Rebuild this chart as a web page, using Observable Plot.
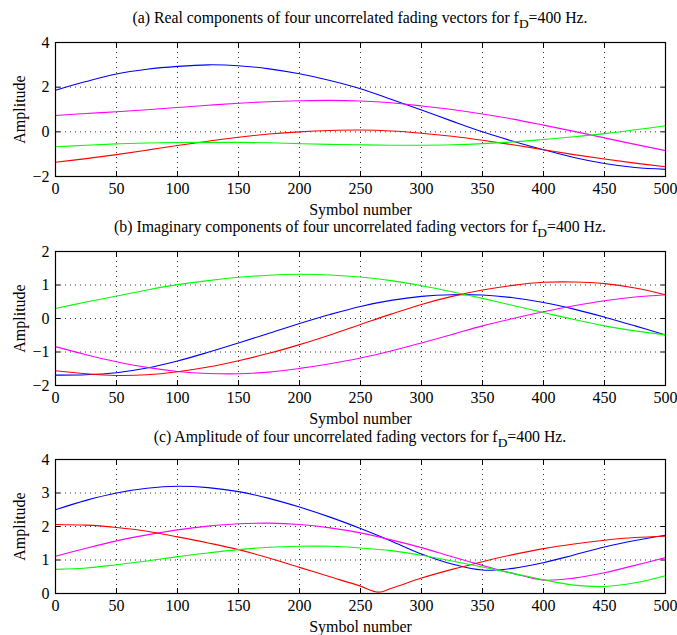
<!DOCTYPE html>
<html>
<head>
<meta charset="utf-8">
<script src="https://cdn.jsdelivr.net/npm/d3@7"></script>
<script src="https://cdn.jsdelivr.net/npm/@observablehq/plot@0.6"></script>
<style>
  body { margin: 0; background: #fff; }
  #wrap { position: relative; width: 677px; height: 635px; font-family: "Liberation Serif", "Times New Roman", serif; }
  .title { position: absolute; left: 55px; width: 610px; text-align: center; font-size: 15.8px; color: #000; line-height: 16px; white-space: nowrap; }
  .title sub { font-size: 0.85em; vertical-align: -5px; line-height: 0; }
  .panel { position: absolute; left: 0; }
</style>
</head>
<body>
<div id="wrap"></div>
<script>
// ---------- data ----------
const symbols = [0,25,50,75,100,125,150,175,200,225,250,275,300,325,350,375,400,425,450,475,500];
const xTicks = [0,50,100,150,200,250,300,350,400,450,500];
const seriesColors = ["#0000ff", "#ff00ff", "#ff0000", "#00ff00"];

// (a) Real components
const realBlue  = [1.86,2.25,2.59,2.80,2.93,3.00,2.96,2.82,2.60,2.30,1.93,1.46,0.98,0.48,0.00,-0.42,-0.80,-1.15,-1.42,-1.60,-1.68];
const realPink  = [0.73,0.82,0.90,0.99,1.09,1.19,1.28,1.35,1.39,1.41,1.38,1.30,1.16,1.00,0.80,0.57,0.30,0.02,-0.27,-0.56,-0.84];
const realRed   = [-1.36,-1.20,-1.02,-0.82,-0.61,-0.42,-0.24,-0.10,0.00,0.06,0.08,0.04,-0.06,-0.20,-0.38,-0.58,-0.80,-1.02,-1.22,-1.40,-1.56];
const realGreen = [-0.67,-0.60,-0.54,-0.50,-0.48,-0.47,-0.47,-0.49,-0.53,-0.56,-0.58,-0.60,-0.60,-0.58,-0.53,-0.45,-0.34,-0.22,-0.08,0.09,0.27];

// (b) Imaginary components
const imagBlue  = [-1.69,-1.68,-1.62,-1.48,-1.27,-1.01,-0.73,-0.44,-0.15,0.12,0.36,0.54,0.66,0.71,0.70,0.62,0.48,0.28,0.04,-0.22,-0.49];
const imagPink  = [-0.84,-1.08,-1.29,-1.46,-1.58,-1.64,-1.65,-1.60,-1.49,-1.35,-1.18,-0.97,-0.73,-0.48,-0.22,0.00,0.20,0.38,0.53,0.64,0.71];
const imagRed   = [-1.56,-1.65,-1.70,-1.68,-1.59,-1.45,-1.26,-1.04,-0.78,-0.49,-0.18,0.13,0.42,0.66,0.85,0.99,1.08,1.09,1.04,0.91,0.71];
const imagGreen = [0.30,0.49,0.67,0.85,1.01,1.13,1.23,1.29,1.32,1.30,1.24,1.13,0.98,0.80,0.60,0.39,0.18,-0.03,-0.22,-0.37,-0.49];

// (c) Amplitude
const ampBlue  = [2.50,2.78,3.00,3.14,3.20,3.16,3.04,2.84,2.58,2.28,1.94,1.57,1.18,0.88,0.70,0.75,0.92,1.15,1.39,1.58,1.74];
const ampPink  = [1.11,1.35,1.57,1.75,1.90,2.01,2.08,2.10,2.06,1.96,1.81,1.60,1.37,1.10,0.84,0.60,0.40,0.46,0.62,0.84,1.07];
const ampRedSymbols = [0,25,50,75,100,125,150,175,200,225,250,265,275,300,325,350,375,400,425,450,475,500];
const ampRed   = [2.06,2.04,1.97,1.86,1.69,1.51,1.31,1.06,0.78,0.50,0.22,0.04,0.15,0.46,0.72,0.95,1.16,1.34,1.48,1.59,1.67,1.71];
const ampGreen = [0.72,0.76,0.86,0.97,1.10,1.21,1.31,1.38,1.41,1.41,1.36,1.28,1.14,0.97,0.79,0.60,0.41,0.25,0.21,0.32,0.53];

const panels = [
  {title: "(a) Real components of four uncorrelated fading vectors for f<sub>D</sub>=400 Hz.", titleTop: 10, top: 34,
   yDomain: [-2, 4], yTicks: [-2,0,2,4],
   series: [[symbols, realBlue], [symbols, realPink], [symbols, realRed], [symbols, realGreen]]},
  {title: "(b) Imaginary components of four uncorrelated fading vectors for f<sub>D</sub>=400 Hz.", titleTop: 219, top: 243,
   yDomain: [-2, 2], yTicks: [-2,-1,0,1,2],
   series: [[symbols, imagBlue], [symbols, imagPink], [symbols, imagRed], [symbols, imagGreen]]},
  {title: "(c) Amplitude of four uncorrelated fading vectors for f<sub>D</sub>=400 Hz.", titleTop: 429, top: 451,
   yDomain: [0, 4], yTicks: [0,1,2,3,4],
   series: [[symbols, ampBlue], [symbols, ampPink], [ampRedSymbols, ampRed, "monotone-x"], [symbols, ampGreen]]}
];

const wrap = document.getElementById("wrap");
const plotH = 134, mTop = 8, mBottom = 48;

for (const p of panels) {
  const t = document.createElement("div");
  t.className = "title";
  t.style.top = p.titleTop + "px";
  t.innerHTML = p.title;
  wrap.appendChild(t);

  const lines = p.series.map(([xs, ys, curve], i) =>
    Plot.line(xs.map((x, j) => ({x, y: ys[j]})), {x: "x", y: "y", stroke: seriesColors[i], strokeWidth: 1.1, curve: curve || "catmull-rom"})
  );

  const chart = Plot.plot({
    width: 677,
    height: mTop + plotH + mBottom,
    marginTop: mTop, marginBottom: mBottom, marginLeft: 55, marginRight: 12,
    style: {fontFamily: "'Liberation Serif', 'Times New Roman', serif", fontSize: "16px", color: "#000", background: "transparent", overflow: "visible"},
    x: {domain: [0, 500]},
    y: {domain: p.yDomain},
    marks: [
      Plot.gridX(xTicks, {stroke: "#000", strokeOpacity: 0.8, strokeDasharray: "1,4", strokeWidth: 1}),
      Plot.gridY(p.yTicks, {stroke: "#000", strokeOpacity: 0.8, strokeDasharray: "1,4", strokeWidth: 1}),
      ...lines,
      Plot.frame({stroke: "#000", strokeWidth: 1.2}),
      Plot.axisX(xTicks, {anchor: "bottom", tickSize: 0, tickPadding: 6, label: "Symbol number", labelAnchor: "center", labelArrow: "none", labelOffset: 38, tickFormat: d => String(d)}),
      Plot.axisX(xTicks, {anchor: "bottom", tickSize: -5, tickFormat: () => "", label: null}),
      Plot.axisX(xTicks, {anchor: "top", tickSize: -5, tickFormat: () => "", label: null}),
      Plot.axisY(p.yTicks, {anchor: "left", tickSize: 0, tickPadding: 6, label: "Amplitude", labelAnchor: "center", labelArrow: "none", labelOffset: 42}),
      Plot.axisY(p.yTicks, {anchor: "left", tickSize: -5, tickFormat: () => "", label: null}),
      Plot.axisY(p.yTicks, {anchor: "right", tickSize: -5, tickFormat: () => "", label: null})
    ]
  });
  chart.classList.add("panel");
  chart.style.top = p.top + "px";
  wrap.appendChild(chart);
}
</script>
</body>
</html>
